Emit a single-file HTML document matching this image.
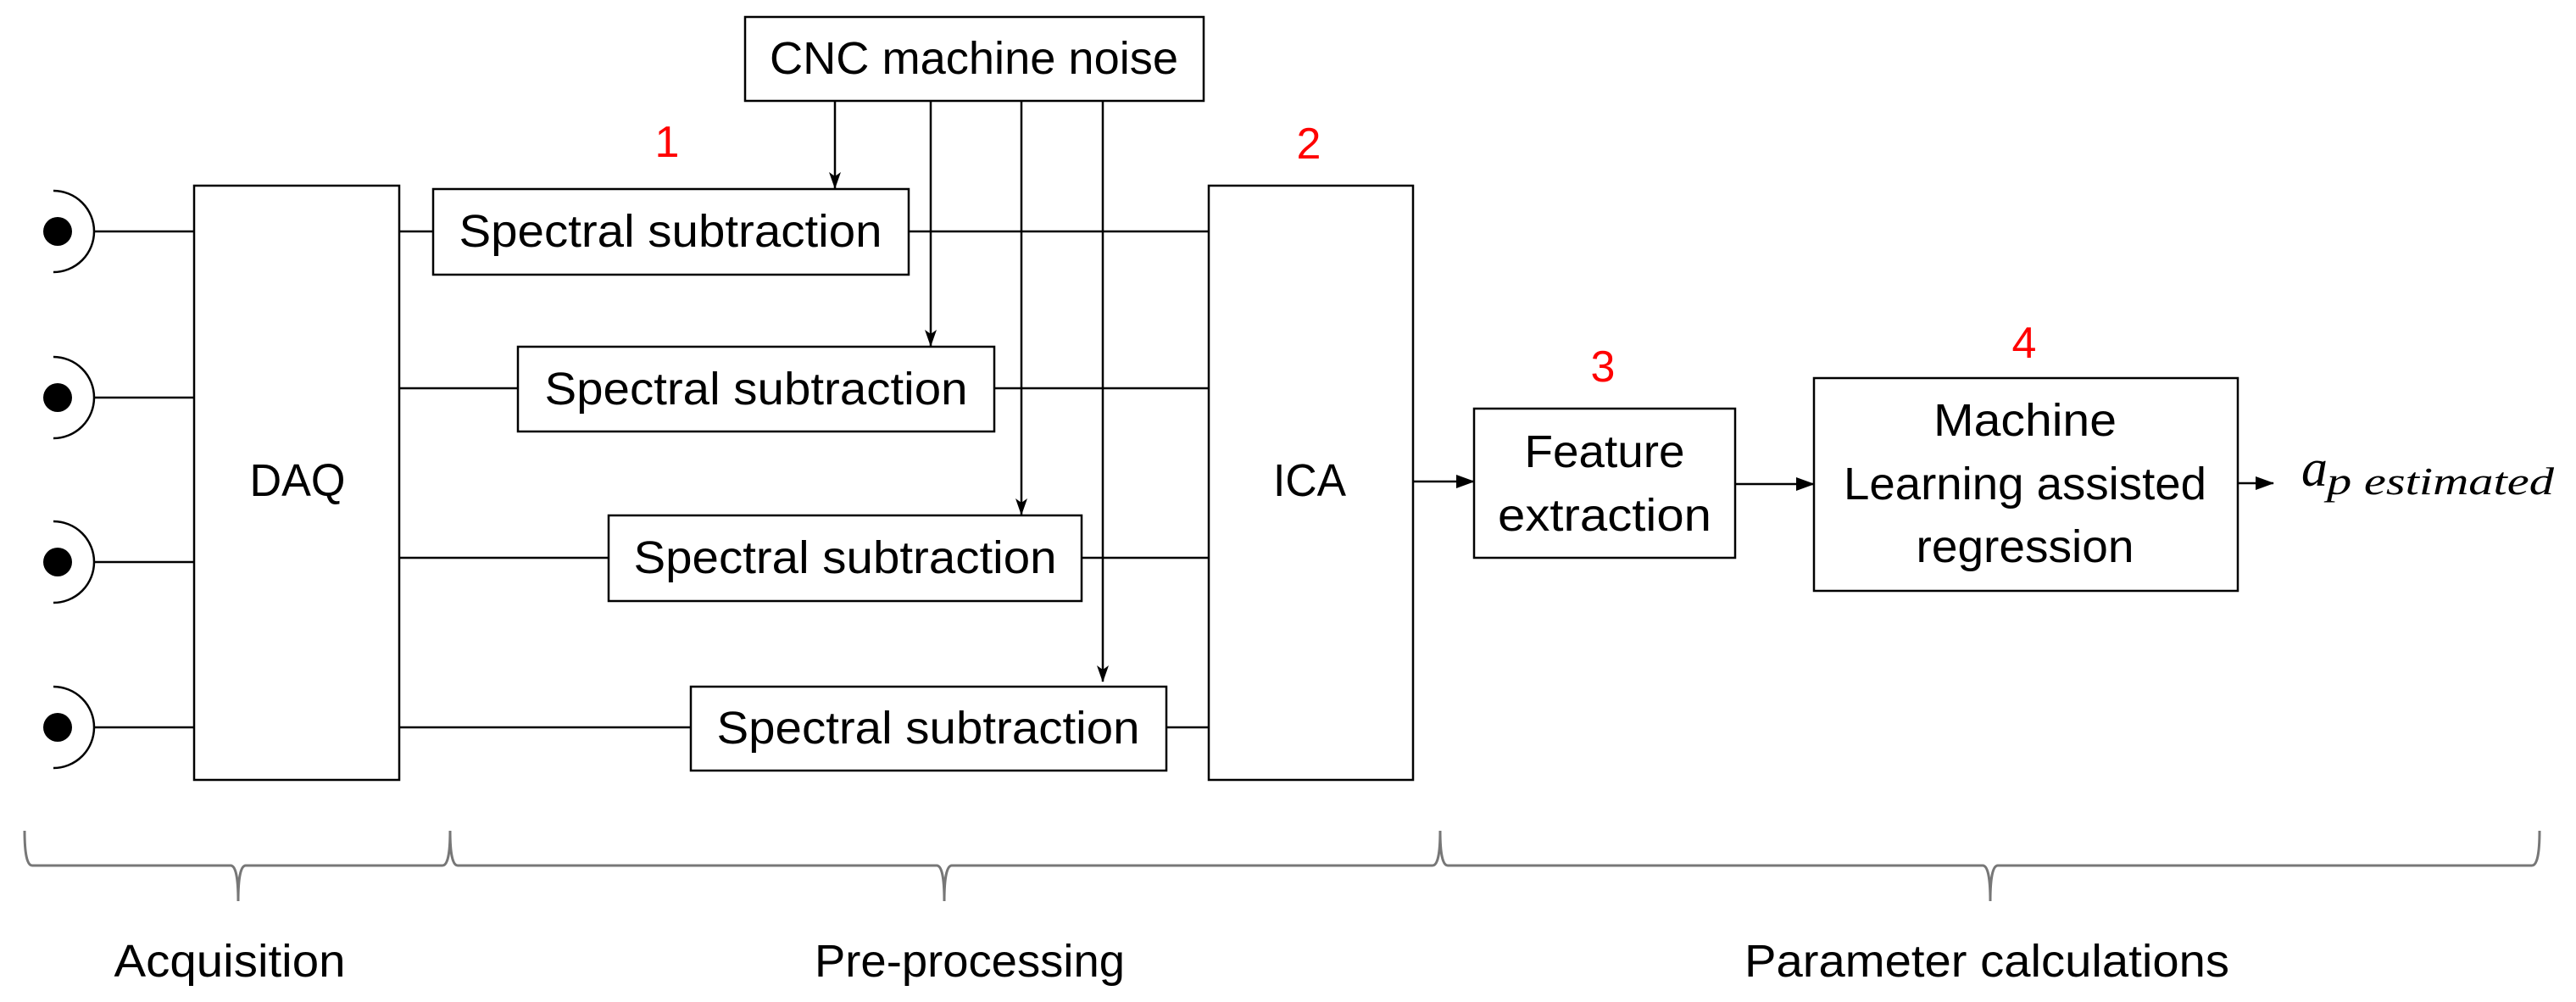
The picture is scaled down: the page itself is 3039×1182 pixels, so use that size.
<!DOCTYPE html>
<html><head><meta charset="utf-8"><style>html,body{margin:0;padding:0;background:#fff}svg{display:block}</style></head>
<body>
<svg width="3039" height="1182" viewBox="0 0 3039 1182" xmlns="http://www.w3.org/2000/svg">
<defs>
<marker id="ar" markerWidth="20" markerHeight="14" refX="19" refY="7" orient="auto" markerUnits="userSpaceOnUse"><path d="M0,0 L20,7 L0,14 L5,7 Z" fill="#000"/></marker>
<marker id="ab" markerWidth="22" markerHeight="16" refX="21" refY="8" orient="auto" markerUnits="userSpaceOnUse"><path d="M0,0 L22,8 L0,16 Z" fill="#000"/></marker>
</defs>
<g fill="none" stroke="#000" stroke-width="2.5">
<path d="M63,225 A48,48 0 0 1 63,321"/>
<path d="M63,421 A48,48 0 0 1 63,517"/>
<path d="M63,615 A48,48 0 0 1 63,711"/>
<path d="M63,810 A48,48 0 0 1 63,906"/>
<line x1="111" y1="273" x2="229" y2="273"/>
<line x1="111" y1="469" x2="229" y2="469"/>
<line x1="111" y1="663" x2="229" y2="663"/>
<line x1="111" y1="858" x2="229" y2="858"/>
<rect x="229" y="219" width="242" height="701"/>
<rect x="1426" y="219" width="241" height="701"/>
<rect x="879" y="20" width="541" height="99"/>
<rect x="511" y="223" width="561" height="101"/>
<rect x="611" y="409" width="562" height="100"/>
<rect x="718" y="608" width="558" height="101"/>
<rect x="815" y="810" width="561" height="99"/>
<rect x="1739" y="482" width="308" height="176"/>
<rect x="2140" y="446" width="500" height="251"/>
<line x1="471" y1="273" x2="511" y2="273"/>
<line x1="471" y1="458" x2="611" y2="458"/>
<line x1="471" y1="658" x2="718" y2="658"/>
<line x1="471" y1="858" x2="815" y2="858"/>
<line x1="1072" y1="273" x2="1426" y2="273"/>
<line x1="1173" y1="458" x2="1426" y2="458"/>
<line x1="1276" y1="658" x2="1426" y2="658"/>
<line x1="1376" y1="858" x2="1426" y2="858"/>
<line x1="985" y1="119" x2="985" y2="222" marker-end="url(#ar)"/>
<line x1="1098" y1="119" x2="1098" y2="408" marker-end="url(#ar)"/>
<line x1="1205" y1="119" x2="1205" y2="607" marker-end="url(#ar)"/>
<line x1="1301" y1="119" x2="1301" y2="804" marker-end="url(#ar)"/>
<line x1="1667" y1="568" x2="1739" y2="568" marker-end="url(#ab)"/>
<line x1="2047" y1="571" x2="2140" y2="571" marker-end="url(#ab)"/>
<line x1="2640" y1="570" x2="2682" y2="570" marker-end="url(#ab)"/>
</g>
<g fill="#000">
<ellipse cx="68" cy="273" rx="17" ry="17"/>
<ellipse cx="68" cy="469" rx="17" ry="17"/>
<ellipse cx="68" cy="663" rx="17" ry="17"/>
<ellipse cx="68" cy="858" rx="17" ry="17"/>
</g>
<g fill="none" stroke="#777" stroke-width="3">
<path d="M29,980 Q29,1021 38,1021 L272,1021 Q281,1021 281,1063 Q281,1021 290,1021 L522,1021 Q531,1021 531,980"/>
<path d="M531,980 Q531,1021 540,1021 L1105,1021 Q1114,1021 1114,1063 Q1114,1021 1123,1021 L1690,1021 Q1699,1021 1699,980"/>
<path d="M1699,980 Q1699,1021 1708,1021 L2339,1021 Q2348,1021 2348,1063 Q2348,1021 2357,1021 L2987,1021 Q2996,1021 2996,980"/>
</g>
<g font-family="'Liberation Sans', sans-serif" font-size="54" fill="#000" text-anchor="middle" dominant-baseline="central">
<text x="1149" y="69" textLength="482" lengthAdjust="spacingAndGlyphs">CNC machine noise</text>
<text x="791" y="273" textLength="499" lengthAdjust="spacingAndGlyphs">Spectral subtraction</text>
<text x="892" y="459" textLength="499" lengthAdjust="spacingAndGlyphs">Spectral subtraction</text>
<text x="997" y="658" textLength="499" lengthAdjust="spacingAndGlyphs">Spectral subtraction</text>
<text x="1095" y="859" textLength="499" lengthAdjust="spacingAndGlyphs">Spectral subtraction</text>
<text x="351" y="567" textLength="113" lengthAdjust="spacingAndGlyphs">DAQ</text>
<text x="1545" y="567" textLength="86" lengthAdjust="spacingAndGlyphs">ICA</text>
<text x="1893" y="533" textLength="189" lengthAdjust="spacingAndGlyphs">Feature</text>
<text x="1893" y="608" textLength="252" lengthAdjust="spacingAndGlyphs">extraction</text>
<text x="2389" y="496" textLength="216" lengthAdjust="spacingAndGlyphs">Machine</text>
<text x="2389" y="571" textLength="428" lengthAdjust="spacingAndGlyphs">Learning assisted</text>
<text x="2389" y="645" textLength="257" lengthAdjust="spacingAndGlyphs">regression</text>
<text x="271" y="1134" textLength="273" lengthAdjust="spacingAndGlyphs">Acquisition</text>
<text x="1144" y="1134" textLength="366" lengthAdjust="spacingAndGlyphs">Pre-processing</text>
<text x="2344" y="1134" textLength="572" lengthAdjust="spacingAndGlyphs">Parameter calculations</text>
</g>
<g font-family="'Liberation Sans', sans-serif" font-size="52" fill="#ff0000" text-anchor="middle" dominant-baseline="central">
<text x="787" y="168">1</text>
<text x="1544" y="170">2</text>
<text x="1891" y="433">3</text>
<text x="2388" y="405">4</text>
</g>
<g font-family="'Liberation Serif', serif" font-style="italic" fill="#000">
<text x="2715" y="573" font-size="62">a</text>
<text x="2745" y="583" font-size="46" textLength="268" lengthAdjust="spacingAndGlyphs">p estimated</text>
</g>
</svg>
</body></html>
